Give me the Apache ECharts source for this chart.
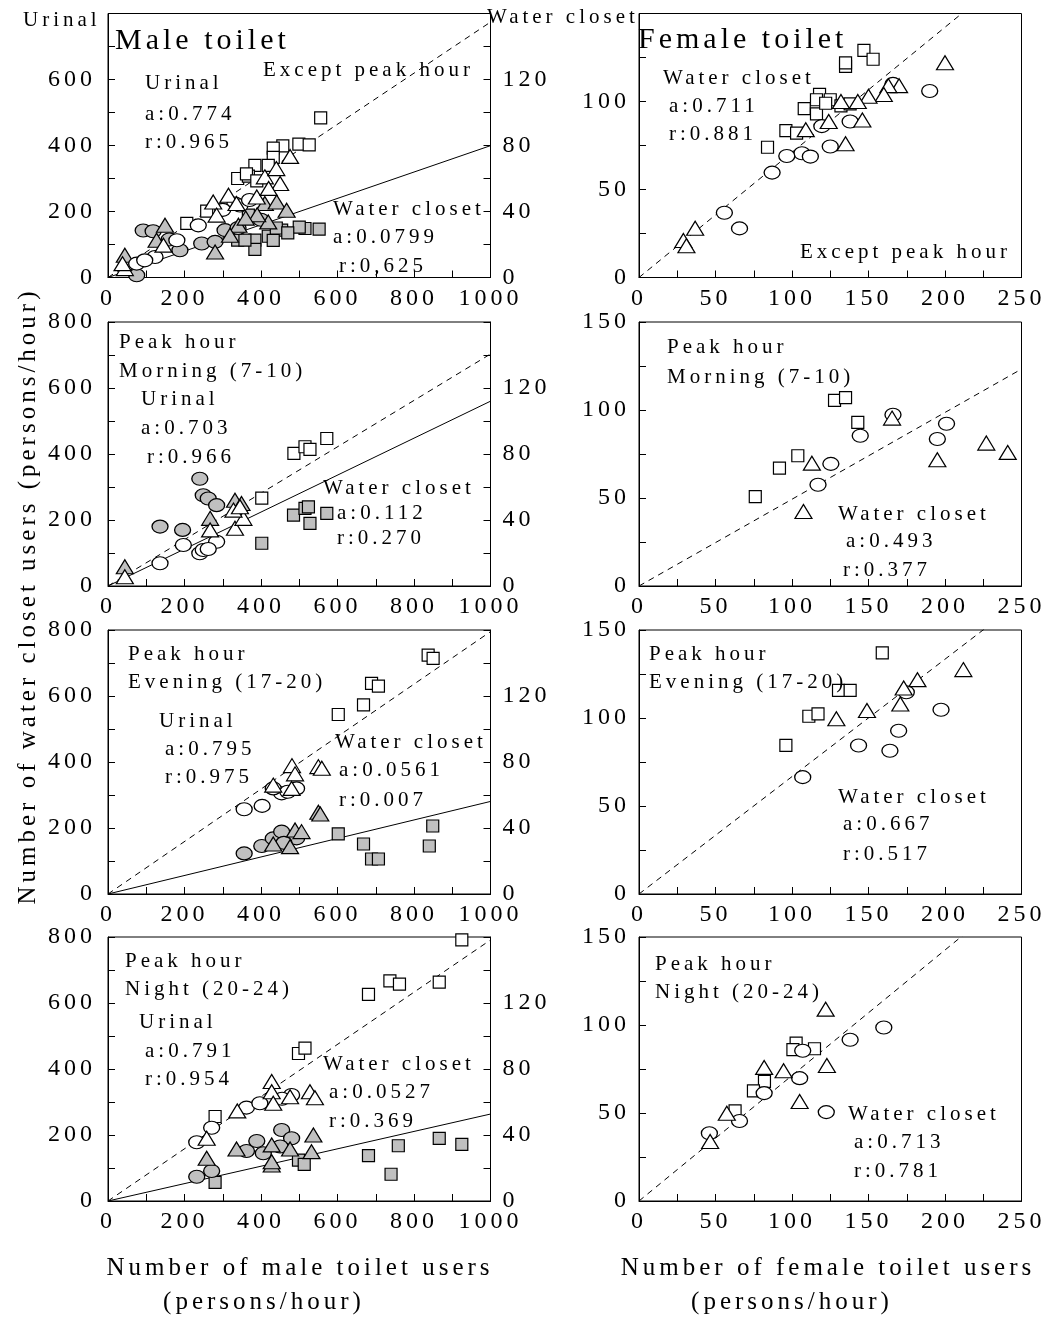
<!DOCTYPE html>
<html><head><meta charset="utf-8">
<script src="https://cdn.jsdelivr.net/npm/echarts@6/dist/echarts.min.js"></script>
<style>html,body{margin:0;padding:0;background:#fff}#chart{width:1051px;height:1318px}</style>
</head><body><div id="chart"></div>
<script>
// ---------------- DATA ----------------
// Male toilet, urinal users (left axis, open markers): [male users, urinal users]
const mExceptUrinalSq = [[556,484],[499,404],[526,402],[457,399],[432,392],[432,364],[384,340],[419,340],[339,300],[367,307],[362,314],[389,293],[258,201],[206,164]];
const mExceptUrinalCi = [[180,113],[236,158],[332,224],[345,218],[75,42],[123,62],[96,52],[300,205],[370,235]];
const mExceptUrinalTr = [[476,367],[410,305],[450,285],[315,249],[275,229],[389,244],[336,224],[284,189],[145,98],[44,27],[38,42],[440,330],[420,270]];
// Male toilet, water closet users (right axis, gray markers)
const mExceptWcSq = [[515,29.7],[552,29.3],[500,30.5],[454,28.7],[419,25],[384,22.6],[384,17],[339,22.6],[367,37.8],[358,22.6],[432,22.5],[440,30],[470,27]];
const mExceptWcCi = [[92,28.5],[118,28],[188,16.5],[245,20.6],[280,21.6],[306,28.7],[75,1.4],[160,23],[340,30],[400,35]];
const mExceptWcTr = [[410,44.8],[441,45.8],[467,40.8],[341,31.7],[319,25.6],[419,33.7],[149,31.7],[127,22.6],[280,15.5],[44,13.5],[390,38],[360,36]];

const mMorningUrinalSq = [[486,402],[515,422],[528,414],[572,447],[402,266]];
const mMorningUrinalCi = [[136,69],[197,124],[240,99],[249,109],[284,134],[262,112]];
const mMorningUrinalTr = [[44,28],[267,170],[332,175],[354,205],[328,230],[345,240]];
const mMorningWcSq = [[485,43],[515,47],[524,48],[528,38],[572,44],[402,25.9]];
const mMorningWcCi = [[240,65],[249,55],[262,53],[284,49],[136,36],[195,34]];
const mMorningWcTr = [[44,11.7],[267,41],[332,52],[349,50]];

const mEveningUrinalSq = [[837,724],[850,714],[689,638],[707,630],[668,573],[602,544]];
const mEveningUrinalCi = [[356,257],[403,267],[454,305],[493,320],[432,320],[470,310]];
const mEveningUrinalTr = [[481,389],[550,386],[559,381],[489,364],[432,330],[480,320]];
const mEveningWcSq = [[602,36.4],[668,30.3],[689,21.2],[707,21.2],[849,41.2],[840,29.1]];
const mEveningWcCi = [[356,24.6],[402,29.1],[432,33.7],[454,37.8],[493,33.7],[460,31]];
const mEveningWcTr = [[432,30.3],[476,28.7],[489,38.8],[506,37.8],[550,49.5],[555,48.5]];

const mNightUrinalSq = [[925,791],[681,626],[737,667],[762,657],[866,663],[498,447],[515,463],[280,256]];
const mNightUrinalCi = [[232,178],[271,222],[362,283],[397,296],[480,321],[455,310]];
const mNightUrinalTr = [[338,273],[428,362],[428,331],[432,296],[476,316],[528,331],[541,313],[258,190]];
const mNightWcSq = [[280,11.3],[498,24.8],[513,22.2],[681,27.5],[759,33.5],[866,38],[925,34.3],[740,16.2]];
const mNightWcCi = [[232,14.7],[271,18.2],[362,30.3],[389,36.4],[406,28.9],[454,43],[480,38],[450,33]];
const mNightWcTr = [[258,25.9],[336,31.5],[428,34],[428,21.8],[428,23.8],[476,31.5],[532,29.9],[537,40]];

// Female toilet, water closet users: [female users, water closet users]
const fExceptSq = [[147,129],[153,124],[135,120],[135,122],[118,104],[116,101],[125,101],[108,96],[116,93],[132,97.5],[138,98.6],[96,83.5],[103,82],[84,74],[122,99]];
const fExceptCi = [[190,106],[166,110],[138,88.6],[119.5,86],[125,74.4],[106.5,70.6],[112,68.7],[96.6,69],[87,59.6],[55.8,36.8],[65.7,27.9]];
const fExceptTr = [[200,122],[170,109],[163,109],[160,104],[150,103],[143,100],[132,100],[124,88.6],[146,89.5],[109,84],[135,76],[36.7,28],[29,21],[31,18]];

const fMorningSq = [[76,50.8],[91.8,67],[103.8,74],[127.8,105.5],[135,107],[143,93]];
const fMorningCi = [[117,57.5],[125.4,69.4],[144.6,85.4],[166,97.3],[195,83.5],[201,92.2]];
const fMorningTr = [[113,69.8],[107.5,42.3],[165.4,95.4],[195,71.7],[227,81.2],[241,75.9]];

const fEveningSq = [[159,137],[96,84.4],[111,101],[117,102.4],[130.4,115.7],[138,115.7]];
const fEveningCi = [[107,66.4],[143.5,84.4],[164,81.4],[169.7,92.8],[174.7,114.6],[197.4,104.7]];
const fEveningTr = [[212,127.5],[182,121.8],[173,117],[170.8,108],[149,104.3],[129,99.6]];

const fNightSq = [[102.7,89.7],[100.6,86],[114.7,86.5],[82,68],[74.8,62.6],[62.8,51.2]];
const fNightCi = [[46,38.5],[65.7,45.5],[81.8,61.3],[105,69.8],[107,85.4],[138,91.6],[160,98.6],[122.4,50.5]];
const fNightTr = [[46.5,33.8],[57.4,49.9],[81.8,75.9],[94.5,74],[122,109],[122.8,77],[105,56.5]];

// regression slopes (through origin) and correlation labels
const maleUrinalSlope = [0.774, 0.703, 0.795, 0.791];
const maleWcSlope = [0.0799, 0.112, 0.0561, 0.0527];
const femaleWcSlope = [0.711, 0.493, 0.667, 0.713];
const maleUrinalR = ['r:0.965', 'r:0.966', 'r:0.975', 'r:0.954'];
const maleWcR = ['r:0,625', 'r:0.270', 'r:0.007', 'r:0.369'];
const femaleWcR = ['r:0.881', 'r:0.377', 'r:0.517', 'r:0.781'];
const periodLine1 = ['Except peak hour', 'Peak hour', 'Peak hour', 'Peak hour'];
const periodLine2 = ['', 'Morning (7-10)', 'Evening (17-20)', 'Night (20-24)'];

// axis ranges / ticks
const maleXMax = 1000, maleXTick = 100, maleXLabelStep = 200;
const urinalYMax = 800, urinalYTick = 100, urinalYLabelStep = 200;
const wcYMax = 160, wcYTick = 20, wcYLabelStep = 40;
const femXMax = 250, femXTick = 25, femXLabelStep = 50;
const femYMax = 150, femYTick = 25, femYLabelStep = 50;

// ---------------- LAYOUT ----------------
const FONT = '"Liberation Serif","Times New Roman",serif';
const tops = [13.5, 322, 630, 937];
const H = 264, W = 382.5, LX = 108, RX = 639;
const GRAY = '#c0c0c0';
const TICKFONT = 24;

const grids = [], xAxes = [], yAxes = [], series = [];
const tickCfg = {show: true, inside: true, length: 7, lineStyle: {color: '#000', width: 1}};
const lineCfg = {show: true, onZero: false, lineStyle: {color: '#000', width: 1}};
const lbl = (margin, step, hideMax, max) => ({
  show: true, margin, color: '#000', fontFamily: FONT, fontSize: TICKFONT,
  formatter: v => (Math.abs(v % step) < 1e-9 && !(hideMax && Math.abs(v - max) < 1e-9)) ? String(v) : ''
});

const maleSets = [
  [mExceptUrinalSq, mExceptUrinalCi, mExceptUrinalTr, mExceptWcSq, mExceptWcCi, mExceptWcTr],
  [mMorningUrinalSq, mMorningUrinalCi, mMorningUrinalTr, mMorningWcSq, mMorningWcCi, mMorningWcTr],
  [mEveningUrinalSq, mEveningUrinalCi, mEveningUrinalTr, mEveningWcSq, mEveningWcCi, mEveningWcTr],
  [mNightUrinalSq, mNightUrinalCi, mNightUrinalTr, mNightWcSq, mNightWcCi, mNightWcTr]
];
const femSets = [
  [fExceptSq, fExceptCi, fExceptTr],
  [fMorningSq, fMorningCi, fMorningTr],
  [fEveningSq, fEveningCi, fEveningTr],
  [fNightSq, fNightCi, fNightTr]
];

const SYM = {sq: ['rect', [12, 12]], ci: ['circle', [16, 13]], tr: ['triangle', [17, 14]]};
function scatter(data, xi, yi, kind, gray) {
  return {type: 'scatter', data, xAxisIndex: xi, yAxisIndex: yi, symbol: SYM[kind][0], symbolSize: SYM[kind][1],
    itemStyle: {color: gray ? GRAY : '#fff', borderColor: '#000', borderWidth: 1.2, opacity: 1},
    emphasis: {disabled: true}, silent: true, z: 3, animation: false};
}
function fitLine(slope, xi, yi, xmax, dashed) {
  return {type: 'line', data: [[0, 0], [xmax, slope * xmax]], xAxisIndex: xi, yAxisIndex: yi, symbol: 'none', clip: true,
    lineStyle: {color: '#000', width: 1, type: dashed ? [6, 5] : 'solid'}, silent: true, z: 2, animation: false};
}

for (let r = 0; r < 4; r++) {
  const gL = 2 * r, gR = 2 * r + 1;
  grids.push({left: LX, top: tops[r], width: W, height: H, show: true, borderColor: '#000', borderWidth: 1, backgroundColor: 'transparent'});
  grids.push({left: RX, top: tops[r], width: W, height: H, show: true, borderColor: '#000', borderWidth: 1, backgroundColor: 'transparent'});
  xAxes.push({type: 'value', gridIndex: gL, min: 0, max: maleXMax, interval: maleXTick, axisLine: lineCfg, axisTick: tickCfg,
    axisLabel: lbl(9, maleXLabelStep, false, maleXMax), splitLine: {show: false}});
  xAxes.push({type: 'value', gridIndex: gR, min: 0, max: femXMax, interval: femXTick, axisLine: lineCfg, axisTick: tickCfg,
    axisLabel: lbl(9, femXLabelStep, false, femXMax), splitLine: {show: false}});
  yAxes.push({type: 'value', gridIndex: gL, position: 'left', min: 0, max: urinalYMax, interval: urinalYTick, axisLine: lineCfg, axisTick: tickCfg,
    axisLabel: lbl(12, urinalYLabelStep, r === 0, urinalYMax), splitLine: {show: false}});
  yAxes.push({type: 'value', gridIndex: gL, position: 'right', min: 0, max: wcYMax, interval: wcYTick, axisLine: lineCfg, axisTick: tickCfg,
    axisLabel: lbl(12, wcYLabelStep, true, wcYMax), splitLine: {show: false}});
  yAxes.push({type: 'value', gridIndex: gR, position: 'left', min: 0, max: femYMax, interval: femYTick, axisLine: lineCfg, axisTick: tickCfg,
    axisLabel: lbl(9, femYLabelStep, r === 0, femYMax), splitLine: {show: false}});

  const xiL = 2 * r, xiR = 2 * r + 1, yU = 3 * r, yW = 3 * r + 1, yF = 3 * r + 2;
  series.push(fitLine(maleUrinalSlope[r], xiL, yU, maleXMax, true));
  series.push(fitLine(maleWcSlope[r], xiL, yW, maleXMax, false));
  series.push(fitLine(femaleWcSlope[r], xiR, yF, femXMax, true));
  const m = maleSets[r];
  series.push(scatter(m[3], xiL, yW, 'sq', true));
  series.push(scatter(m[4], xiL, yW, 'ci', true));
  series.push(scatter(m[5], xiL, yW, 'tr', true));
  series.push(scatter(m[0], xiL, yU, 'sq', false));
  series.push(scatter(m[1], xiL, yU, 'ci', false));
  series.push(scatter(m[2], xiL, yU, 'tr', false));
  const f = femSets[r];
  series.push(scatter(f[0], xiR, yF, 'sq', false));
  series.push(scatter(f[1], xiR, yF, 'ci', false));
  series.push(scatter(f[2], xiR, yF, 'tr', false));
}

// text annotations
function txt(text, x, y, size, align, rot) {
  return {type: 'text', x, y, rotation: rot || 0, silent: true, z: 10,
    style: {text, fill: '#000', font: size + 'px ' + FONT, align: align || 'left', verticalAlign: 'middle',
      textAlign: align || 'left', textVerticalAlign: 'middle'}};
}
const A = 21;
const graphics = [
  txt('Urinal', 23, 20, A), txt('Water closet', 487, 17, A),
  txt('Male toilet', 115, 41.5, 30), txt('Female toilet', 638, 40, 30),
  // row 1 male
  txt('Urinal', 145, 83, A), txt('a:' + maleUrinalSlope[0], 145, 114.5, A), txt(maleUrinalR[0], 145, 142.5, A),
  txt(periodLine1[0], 263, 70, A),
  txt('Water closet', 333, 209, A), txt('a:' + maleWcSlope[0], 333, 237, A), txt(maleWcR[0], 339, 266, A),
  // row 1 female
  txt('Water closet', 663, 78, A), txt('a:' + femaleWcSlope[0], 669, 106, A), txt(femaleWcR[0], 669, 134.5, A),
  txt(periodLine1[0], 800, 252.5, A),
  // row 2 male
  txt(periodLine1[1], 119, 342.5, A), txt(periodLine2[1], 119, 371, A),
  txt('Urinal', 141, 399, A), txt('a:' + maleUrinalSlope[1], 141, 428, A), txt(maleUrinalR[1], 147, 457, A),
  txt('Water closet', 323, 488, A), txt('a:' + maleWcSlope[1], 337, 513, A), txt(maleWcR[1], 337, 538, A),
  // row 2 female
  txt(periodLine1[1], 667, 347.5, A), txt(periodLine2[1], 667, 377.5, A),
  txt('Water closet', 838, 514, A), txt('a:' + femaleWcSlope[1], 846, 541, A), txt(femaleWcR[1], 843, 570, A),
  // row 3 male
  txt(periodLine1[2], 128, 654, A), txt(periodLine2[2], 128, 682.5, A),
  txt('Urinal', 159, 721, A), txt('a:' + maleUrinalSlope[2], 165, 749.5, A), txt(maleUrinalR[2], 165, 777.5, A),
  txt('Water closet', 335, 742, A), txt('a:' + maleWcSlope[2], 339, 770, A), txt(maleWcR[2], 339, 800, A),
  // row 3 female
  txt(periodLine1[2], 649, 654, A), txt(periodLine2[2], 649, 682.5, A),
  txt('Water closet', 838, 797.5, A), txt('a:' + femaleWcSlope[2], 843, 824.5, A), txt(femaleWcR[2], 843, 854, A),
  // row 4 male
  txt(periodLine1[3], 125, 961, A), txt(periodLine2[3], 125, 989, A),
  txt('Urinal', 139, 1022, A), txt('a:' + maleUrinalSlope[3], 145, 1051, A), txt(maleUrinalR[3], 145, 1079, A),
  txt('Water closet', 323, 1064, A), txt('a:' + maleWcSlope[3], 329, 1092, A), txt(maleWcR[3], 329, 1121, A),
  // row 4 female
  txt(periodLine1[3], 655, 964, A), txt(periodLine2[3], 655, 992, A),
  txt('Water closet', 848, 1114, A), txt('a:' + femaleWcSlope[3], 854, 1142, A), txt(femaleWcR[3], 854, 1171, A),
  // axis titles
  txt('Number of water closet users (persons/hour)', 28, 596, 25, 'center', Math.PI / 2),
  txt('Number of male toilet users', 300, 1268, 25, 'center'),
  txt('(persons/hour)', 264, 1302, 25, 'center'),
  txt('Number of female toilet users', 828, 1268, 25, 'center'),
  txt('(persons/hour)', 792, 1302, 25, 'center')
];

const option = {
  animation: false,
  backgroundColor: '#fff',
  textStyle: {fontFamily: FONT},
  grid: grids, xAxis: xAxes, yAxis: yAxes, series,
  graphic: {elements: graphics}
};

const chart = echarts.init(document.getElementById('chart'), null, {renderer: 'canvas', width: 1051, height: 1318});
chart.setOption(option);
// widen letter spacing of all text, as in the reference figure
const cv = document.querySelector('#chart canvas');
if (cv) {
  const c = cv.getContext('2d');
  if ('letterSpacing' in c) {
    c.letterSpacing = '4px';
    chart.setOption(option, {notMerge: true});
  }
}
</script></body></html>
